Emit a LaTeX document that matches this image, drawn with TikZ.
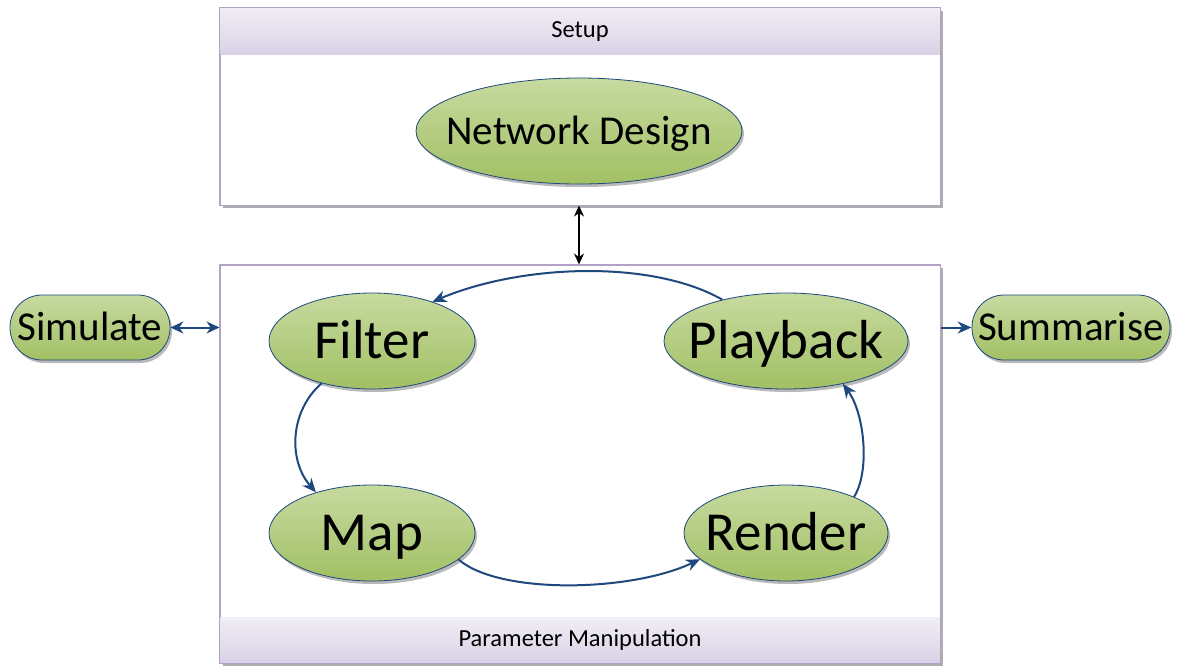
\documentclass[tikz,border=0pt]{standalone}
\usepackage{fontspec}
\setmainfont{Carlito}
\usetikzlibrary{shapes.geometric,shadows,arrows.meta}

\definecolor{edgeblue}{RGB}{31,73,125}
\definecolor{greentop}{RGB}{199,218,160}
\definecolor{greenbot}{RGB}{162,192,100}
\definecolor{lavtop}{RGB}{241,238,246}
\definecolor{lavbot}{RGB}{217,209,229}
\definecolor{panelline}{RGB}{178,162,199}

\tikzset{
  greenshadow/.style={drop shadow={shadow xshift=2pt, shadow yshift=-3pt, fill=black!50, opacity=0.55}},
  process/.style={ellipse, draw=edgeblue, line width=0.8pt,
    top color=greentop, bottom color=greenbot, inner sep=0pt, greenshadow},
  terminal/.style={rectangle, rounded corners=32pt, draw=edgeblue, line width=0.8pt,
    top color=greentop, bottom color=greenbot, greenshadow, inner sep=0pt,
    text height=26pt, text depth=0pt,
    minimum height=65pt, font=\fontsize{41}{45}\selectfont},
  panel/.style={rectangle, draw=panelline, line width=1pt, fill=white, inner sep=0pt,
    drop shadow={shadow xshift=3pt, shadow yshift=-3pt, fill=black!45, opacity=0.7}},
  band/.style={rectangle, top color=lavtop, bottom color=lavbot, inner sep=0pt,
    minimum width=719pt, font=\fontsize{24.5}{27}\selectfont},
  frame/.style={draw=panelline, line width=1pt},
  midtext/.style={inner sep=0pt, text height=26pt, text depth=0pt, font=\fontsize{41}{45}\selectfont},
  bigtext/.style={inner sep=0pt, text height=35pt, text depth=0pt, font=\fontsize{55}{60}\selectfont},
  flow/.style={draw=edgeblue, line width=2pt, -{Stealth[length=14pt,width=12pt]}},
  biflow/.style={draw=edgeblue, line width=2pt, {Stealth[length=13pt,width=12pt]}-{Stealth[length=13pt,width=12pt]}},
  link/.style={draw=black, line width=1.5pt, {Stealth[length=11pt,width=10pt]}-{Stealth[length=11pt,width=10pt]}}
}

\begin{document}
\begin{tikzpicture}[x=1pt,y=-1pt]
  \useasboundingbox (0,0) rectangle (1184,665);

  % Setup panel with its title band
  \node[panel, minimum width=720pt, minimum height=197pt] (setup) at (580,106.5) {};
  \node[band, minimum height=47pt, anchor=north] (setuphead) at (setup.north) {Setup};
  \draw[frame] (setup.north west) rectangle (setup.south east);
  \node[process, minimum width=326pt, minimum height=106pt,
        label={[midtext]center:Network Design}] (nd) at (579,131) {};

  % Parameter manipulation panel with its footer band
  \node[panel, minimum width=720pt, minimum height=398pt] (main) at (580,464) {};
  \node[band, minimum height=46pt, anchor=south] (mainfoot) at (main.south) {Parameter Manipulation};
  \draw[frame] (main.north west) rectangle (main.south east);

  % Processing cycle
  \node[process, minimum width=206pt, minimum height=96pt,
        label={[bigtext]center:Filter}] (filter) at (372,341) {};
  \node[process, minimum width=244pt, minimum height=96pt,
        label={[bigtext]center:Playback}] (playback) at (786,341) {};
  \node[process, minimum width=206pt, minimum height=96pt,
        label={[bigtext]center:Map}] (map) at (372,533) {};
  \node[process, minimum width=204pt, minimum height=96pt,
        label={[bigtext]center:Render}] (render) at (786,533) {};

  % Side stages
  \node[terminal, minimum width=160pt] (sim) at (90,327.5) {Simulate};
  \node[terminal, minimum width=198pt] (sum) at (1071,327.5) {Summarise};

  % Connectors
  \draw[link] (nd |- setup.south) -- (nd |- main.north);
  \draw[biflow] (sim.east) -- (sim.east -| main.west);
  \draw[flow] (sum.west -| main.east) -- (sum.west);

  \draw[flow] (filter.220) .. controls +(-32,28) and +(-28,-32) .. (map.144);
  \draw[flow] (map.-17) .. controls +(40,35) and +(-70,33) .. (render.197);
  \draw[flow] (render.28) .. controls +(16,-25) and +(22,30) .. (playback.-37);
  \draw[flow] (playback.147) .. controls +(-70,-40) and +(90,-38) .. (filter.33);
\end{tikzpicture}
\end{document}
